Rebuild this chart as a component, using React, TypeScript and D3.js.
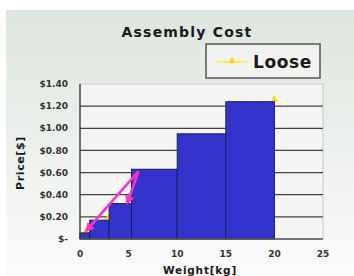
import { useMemo } from 'react';
import * as d3 from 'd3';

const W = 354;
const H = 276;
const MARGIN = { top: 84, right: 31, bottom: 37, left: 80 };

// step bars: [from, to] weight and price
const barStart = [0, 1, 3, 5.3, 10, 15];
const barEnd = [1, 3, 5.3, 10, 15, 20];
const barPrice = [0.055, 0.17, 0.32, 0.63, 0.95, 1.24];

// "Loose" series (mostly hidden behind the bars)
const looseWeight = [0.6, 3, 5, 10, 15, 20];
const loosePrice = [0.07, 0.2, 0.35, 0.6, 0.9, 1.26];

// pink annotation arrows: start -> end
const arrowFrom = [[6, 0.61], [6, 0.61]];
const arrowTo = [[0.7, 0.08], [4.9, 0.33]];

const xTicks = [0, 5, 10, 15, 20, 25];
const yTicks = [0, 0.2, 0.4, 0.6, 0.8, 1.0, 1.2, 1.4];

const fmtPrice = (v: number) => (v === 0 ? '$-' : `$${v.toFixed(2)}`);

export default function App() {
    const boundsW = W - MARGIN.left - MARGIN.right;
    const boundsH = H - MARGIN.top - MARGIN.bottom;

    const xScale = useMemo(() => d3.scaleLinear().domain([0, 25]).range([0, boundsW]), [boundsW]);
    const yScale = useMemo(() => d3.scaleLinear().domain([0, 1.4]).range([boundsH, 0]), [boundsH]);

    const loosePts: [number, number][] = looseWeight.map((w, i) => [xScale(w), yScale(loosePrice[i])]);
    const looseLine = d3.line()(loosePts) || '';
    const tri = d3.symbol().type(d3.symbolTriangle).size(22)() || '';

    return (
        <div style={{ position: 'fixed', left: 0, top: 0 }}>
            <svg width={W} height={H} style={{ display: 'block' }} fontFamily="'DejaVu Sans', sans-serif">
                <defs>
                    <linearGradient id="bg" x1="0" y1="0" x2="0" y2="1">
                        <stop offset="0" stopColor="#dfe6df" />
                        <stop offset="1" stopColor="#fbfbfb" />
                    </linearGradient>
                    <marker id="arr" viewBox="0 0 10 10" refX="7" refY="5" markerWidth="3.6" markerHeight="3.6" orient="auto">
                        <path d="M0,0 L10,5 L0,10 z" fill="#ff33cc" />
                    </marker>
                </defs>
                <rect x={0} y={0} width={W} height={H} fill="#ffffff" />
                <rect x={6} y={10} width={W - 6} height={H - 10} fill="url(#bg)" />

                <text x={187} y={37} textAnchor="middle" fontSize={14} fontWeight="bold" letterSpacing={1.2} fill="#1a1a1a">
                    Assembly Cost
                </text>

                {/* legend */}
                <rect x={206} y={44} width={114} height={34} fill="#f2f3f1" stroke="#555" strokeWidth={1.5} />
                <line x1={217} x2={247} y1={62} y2={62} stroke="#ffee00" strokeWidth={1.2} />
                <path d={tri} transform="translate(232,61)" fill="#ffd800" />
                <text x={253} y={68} fontSize={17} fontWeight="bold" letterSpacing={0.6} fill="#1a1a1a">
                    Loose
                </text>

                <g transform={`translate(${MARGIN.left},${MARGIN.top})`}>
                    <rect x={0} y={0} width={boundsW} height={boundsH} fill="#f5f6f4" stroke="#cfcfcf" strokeWidth={1.2} />
                    {yTicks.slice(1, -1).map((t) => (
                        <line key={t} x1={0} x2={boundsW} y1={yScale(t)} y2={yScale(t)} stroke="#444" strokeWidth={1.3} />
                    ))}
                    {/* loose line behind bars */}
                    <path d={looseLine} fill="none" stroke="#ffee00" strokeWidth={1.2} />
                    {loosePts.map((p, i) => (
                        <path key={i} d={tri} transform={`translate(${p[0]},${p[1]})`} fill="#ffd800" />
                    ))}
                    {barPrice.map((v, i) => (
                        <rect
                            key={i}
                            x={xScale(barStart[i])}
                            y={yScale(v)}
                            width={xScale(barEnd[i]) - xScale(barStart[i])}
                            height={boundsH - yScale(v)}
                            fill="#3333cc"
                            stroke="#1c1c5e"
                            strokeWidth={1}
                        />
                    ))}
                    <line x1={0} x2={0} y1={0} y2={boundsH} stroke="#333" strokeWidth={1.3} />
                    <line x1={0} x2={boundsW} y1={boundsH} y2={boundsH} stroke="#555" strokeWidth={1.3} />
                    {arrowFrom.map((f, i) => (
                        <line
                            key={i}
                            x1={xScale(f[0])}
                            y1={yScale(f[1])}
                            x2={xScale(arrowTo[i][0])}
                            y2={yScale(arrowTo[i][1])}
                            stroke="#ff33cc"
                            strokeWidth={2.6}
                            markerEnd="url(#arr)"
                        />
                    ))}
                    {yTicks.map((t) => (
                        <text key={t} x={-12} y={yScale(t)} dy="0.35em" textAnchor="end" fontSize={9} fontWeight="bold" fill="#333">
                            {fmtPrice(t)}
                        </text>
                    ))}
                    {xTicks.map((t) => (
                        <text key={t} x={xScale(t)} y={boundsH + 18} textAnchor="middle" fontSize={9} fontWeight="bold" fill="#333">
                            {t}
                        </text>
                    ))}
                    <text x={120} y={boundsH + 35} textAnchor="middle" fontSize={10.5} fontWeight="bold" letterSpacing={0.8} fill="#1a1a1a">
                        Weight[kg]
                    </text>
                </g>
                <text transform={`translate(24,${MARGIN.top + 79}) rotate(-90)`} textAnchor="middle" fontSize={11} fontWeight="bold" letterSpacing={0.6} fill="#1a1a1a">
                    Price[$]
                </text>
            </svg>
        </div>
    );
}
